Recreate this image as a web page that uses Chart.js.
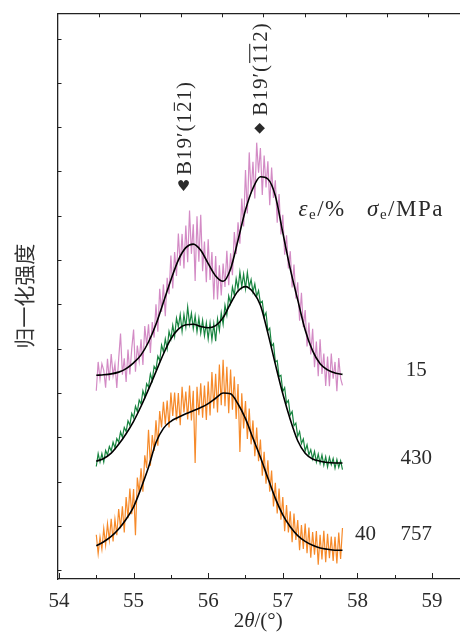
<!DOCTYPE html>
<html>
<head>
<meta charset="utf-8">
<script src="https://cdn.jsdelivr.net/npm/chart.js"></script>
<style>
  html, body { margin: 0; padding: 0; background: #fff; overflow: hidden; }
  #wrap { width: 480px; height: 633px; }
</style>
</head>
<body>
<div id="wrap"><canvas id="xrd" width="480" height="633"></canvas></div>
<script>
// 2theta sampling of the measured scans and of the fitted curves
const SCAN_START = 54.5, SCAN_STEP = 0.025;
const FIT_START = 54.5, FIT_STEP = 0.1;

// measured scans (normalised intensity, shifted)
const pinkScan = [
  4.05, 4.70, 4.31, 4.66, 4.51, 4.12, 4.77, 4.28, 4.88, 4.39, 4.65, 4.11,
  4.77, 5.34, 4.41, 4.78, 4.25, 4.98, 4.42, 5.00, 5.43, 4.48, 5.07, 4.72,
  5.21, 4.63, 5.51, 5.08, 5.55, 4.90, 5.60, 5.25, 6.00, 5.38, 6.35, 5.83,
  6.45, 5.73, 6.60, 6.23, 7.10, 6.36, 7.18, 6.64, 7.60, 6.87, 7.59, 6.81,
  7.78, 6.95, 8.12, 7.14, 7.81, 6.53, 7.99, 6.96, 8.02, 6.75, 7.42, 6.50,
  7.47, 6.55, 7.18, 6.11, 7.09, 6.11, 6.88, 6.20, 6.92, 6.39, 7.21, 6.43,
  7.15, 6.66, 7.63, 7.14, 7.85, 7.37, 8.39, 7.76, 9.03, 8.05, 9.43, 8.50,
  9.22, 8.39, 9.65, 8.97, 9.53, 8.47, 9.36, 8.64, 9.23, 8.24, 9.09, 8.40,
  8.80, 7.84, 8.49, 7.58, 8.02, 7.12, 7.56, 6.81, 7.20, 6.38, 6.90, 6.13,
  6.50, 5.63, 6.26, 5.49, 5.87, 5.05, 5.59, 4.87, 5.45, 4.58, 5.16, 4.38,
  5.21, 4.43, 4.89, 4.16, 4.82, 4.15, 4.89, 4.32, 4.70, 4.04, 4.79, 4.33,
  4.17
];
const greenScan = [
  2.34, 2.63, 2.44, 2.63, 2.44, 2.70, 2.60, 2.79, 2.69, 2.89, 2.76, 2.97,
  2.89, 3.12, 3.00, 3.22, 3.13, 3.37, 3.27, 3.54, 3.44, 3.70, 3.58, 3.84,
  3.75, 4.05, 3.91, 4.21, 4.13, 4.43, 4.28, 4.60, 4.53, 4.83, 4.73, 5.08,
  4.93, 5.22, 5.00, 5.39, 5.22, 5.53, 5.28, 5.69, 5.49, 5.77, 5.39, 5.77,
  5.49, 5.94, 5.55, 5.80, 5.45, 5.74, 5.38, 5.69, 5.35, 5.64, 5.29, 5.58,
  5.22, 5.58, 5.20, 5.56, 5.17, 5.67, 5.41, 5.81, 5.55, 5.98, 5.76, 6.19,
  6.02, 6.39, 6.21, 6.58, 6.35, 6.73, 6.40, 6.68, 6.35, 6.72, 6.39, 6.56,
  6.28, 6.46, 6.18, 6.31, 6.03, 6.07, 5.72, 5.81, 5.40, 5.46, 5.05, 5.11,
  4.70, 4.73, 4.37, 4.40, 4.03, 4.12, 3.77, 3.83, 3.50, 3.58, 3.26, 3.32,
  3.02, 3.13, 2.86, 2.96, 2.69, 2.83, 2.60, 2.72, 2.51, 2.68, 2.44, 2.62,
  2.41, 2.60, 2.37, 2.56, 2.33, 2.55, 2.38, 2.52, 2.30, 2.50, 2.32, 2.47,
  2.27
];
const orangeScan = [
  0.80, 0.37, 0.75, 0.47, 0.94, 0.57, 1.05, 0.68, 1.16, 0.65, 1.15, 0.79,
  1.38, 0.94, 1.44, 0.85, 1.65, 1.17, 1.84, 1.26, 1.83, 0.79, 2.09, 1.75,
  2.30, 1.77, 2.59, 2.30, 3.17, 2.36, 3.05, 2.69, 3.38, 2.81, 3.59, 3.22,
  3.80, 3.29, 3.83, 3.22, 4.01, 3.48, 4.01, 3.38, 4.00, 3.27, 4.14, 3.56,
  4.03, 3.40, 4.17, 3.38, 4.05, 2.42, 4.14, 3.50, 4.22, 3.44, 4.17, 3.39,
  4.26, 3.49, 4.47, 3.65, 4.43, 3.56, 4.64, 3.72, 4.75, 3.70, 4.59, 3.54,
  4.53, 3.62, 4.37, 3.41, 4.20, 2.67, 3.99, 3.20, 3.82, 2.96, 3.65, 2.84,
  3.38, 2.57, 3.22, 2.46, 2.95, 2.13, 2.67, 1.95, 2.48, 1.77, 2.25, 1.44,
  1.97, 1.28, 1.84, 1.14, 1.65, 0.88, 1.47, 0.85, 1.33, 0.63, 1.28, 0.68,
  1.13, 0.45, 1.02, 0.48, 1.05, 0.38, 0.96, 0.28, 0.86, 0.35, 0.88, 0.12,
  0.80, 0.24, 0.89, 0.18, 0.82, 0.27, 0.76, 0.21, 0.75, 0.15, 0.85, 0.25,
  0.95
];

// fitted profiles
const pinkFit = [4.40, 4.41, 4.43, 4.47, 4.55, 4.68, 4.86, 5.15, 5.55, 6.05, 6.55, 7.00,
  7.28, 7.36, 7.22, 6.92, 6.64, 6.52, 6.80, 7.45, 8.13, 8.62, 8.88, 8.83, 8.45, 7.62,
  6.80, 6.10, 5.42, 4.95, 4.66, 4.52, 4.45, 4.42];
const greenFit = [2.46, 2.52, 2.64, 2.84, 3.08, 3.36, 3.70, 4.08, 4.48, 4.88, 5.22, 5.44,
  5.54, 5.55, 5.50, 5.47, 5.52, 5.70, 6.02, 6.30, 6.40, 6.28, 5.98, 5.35, 4.65, 3.98,
  3.40, 2.92, 2.64, 2.51, 2.46, 2.43, 2.42, 2.42];
const orangeFit = [0.55, 0.64, 0.76, 0.93, 1.15, 1.43, 1.85, 2.32, 2.88, 3.20, 3.36, 3.45,
  3.53, 3.60, 3.67, 3.76, 3.88, 4.00, 3.98, 3.75, 3.42, 2.98, 2.55, 2.08, 1.62, 1.25,
  0.98, 0.78, 0.65, 0.56, 0.50, 0.47, 0.45, 0.45];

// axis ticks
const xTicks = [54, 54.5, 55, 55.5, 56, 56.5, 57, 57.5, 58, 58.5, 59];
const yTicks = [0, 1, 2, 3, 4, 5, 6, 7, 8, 9, 10, 11, 12];
const topTicks = [1, 2, 3, 4, 5, 6, 7, 8, 9];

// sample labels: strain (%) and stress (MPa) for each scan, top to bottom
const strainLabels = ['', '', '40'];
const stressLabels = ['15', '430', '757'];
const labelLevels = [4.51, 2.51, 0.80];

const PINK = '#d38bc5', GREEN = '#17843f', ORANGE = '#f68a2a';
const AXIS = '#222';
const SERIF = "'Liberation Serif', 'DejaVu Serif', serif";
const TEXT = '#2a2a2a';

const toPoints = (ys, start, step) => ys.map((y, i) => ({ x: +(start + i * step).toFixed(3), y }));

function scanSet(data, color) {
  return { data: toPoints(data, SCAN_START, SCAN_STEP), borderColor: color, borderWidth: 1.2,
    pointRadius: 0, tension: 0, order: 2 };
}
function fitSet(data) {
  return { data: toPoints(data, FIT_START, FIT_STEP), borderColor: '#000', borderWidth: 1.6,
    pointRadius: 0, cubicInterpolationMode: 'monotone', order: 1 };
}

// draw the tick marks on the inside of the frame
const inwardTicks = {
  id: 'inwardTicks',
  afterDraw(chart) {
    const { ctx, chartArea: a } = chart;
    const { x, y, xTop } = chart.scales;
    ctx.save();
    ctx.strokeStyle = AXIS;
    ctx.lineWidth = 1;
    ctx.beginPath();
    xTicks.forEach(v => {
      const p = Math.round(x.getPixelForValue(v)) + 0.5;
      ctx.moveTo(p, a.bottom);
      ctx.lineTo(p, a.bottom - (Number.isInteger(v) ? 6 : 4));
    });
    yTicks.forEach(v => {
      const p = Math.round(y.getPixelForValue(v)) + 0.5;
      ctx.moveTo(a.left, p);
      ctx.lineTo(a.left + 4, p);
    });
    topTicks.forEach(v => {
      const p = Math.round(xTop.getPixelForValue(v)) + 0.5;
      ctx.moveTo(p, a.top);
      ctx.lineTo(p, a.top + 4);
    });
    ctx.stroke();
    ctx.restore();
  }
};

// write a run of [text, font, dy] pieces starting at x
function drawRun(ctx, x, y, parts, align) {
  let w = 0;
  parts.forEach(p => { ctx.font = p[1]; w += ctx.measureText(p[0]).width; });
  let cx = align === 'center' ? x - w / 2 : x;
  parts.forEach(p => {
    ctx.font = p[1];
    ctx.fillText(p[0], cx, y + (p[2] || 0));
    cx += ctx.measureText(p[0]).width;
  });
}

// rotated peak label with an overline on some characters
function peakLabel(ctx, px, py, pieces) {
  ctx.save();
  ctx.translate(px, py);
  ctx.rotate(-Math.PI / 2);
  ctx.font = '21px ' + SERIF;
  ctx.letterSpacing = '1px';
  ctx.textAlign = 'left';
  ctx.textBaseline = 'alphabetic';
  let cx = 0;
  pieces.forEach(p => {
    const w = ctx.measureText(p[0]).width;
    ctx.fillText(p[0], cx, 7);
    if (p[1]) {
      ctx.fillRect(cx + 1, -10.5, w - 3, 1.1);
    }
    cx += w;
  });
  ctx.restore();
}

const annotations = {
  id: 'annotations',
  afterDraw(chart) {
    const { ctx, chartArea: a } = chart;
    const { x, y } = chart.scales;
    ctx.save();
    ctx.fillStyle = TEXT;
    ctx.textBaseline = 'middle';

    // y title
    ctx.save();
    ctx.translate(24, (a.top + a.bottom) / 2);
    ctx.rotate(-Math.PI / 2);
    ctx.textAlign = 'center';
    ctx.fillStyle = '#333';
    ctx.font = "21px 'Noto Sans CJK SC'";
    ctx.fillText('归一化强度', 0, 0);
    ctx.restore();

    // x title
    ctx.textAlign = 'left';
    drawRun(ctx, x.getPixelForValue(56.67), 621, [
      ['2', '21px ' + SERIF], ['θ', 'italic 21px ' + SERIF], ['/(°)', '21px ' + SERIF]
    ], 'center');

    // peak markers
    ctx.textAlign = 'center';
    ctx.font = "15px 'DejaVu Sans'";
    ctx.fillText('♥', x.getPixelForValue(55.67), y.getPixelForValue(8.65));
    ctx.font = "14px 'DejaVu Sans'";
    ctx.fillText('◆', x.getPixelForValue(56.69), y.getPixelForValue(9.98));
    peakLabel(ctx, x.getPixelForValue(55.68), y.getPixelForValue(8.92),
      [['B19′(1', false], ['2', true], ['1)', false]]);
    peakLabel(ctx, x.getPixelForValue(56.69), y.getPixelForValue(10.26),
      [['B19′(', false], ['11', true], ['2)', false]]);

    // column headers
    ctx.textAlign = 'left';
    ctx.save();
    ctx.letterSpacing = '1.5px';
    drawRun(ctx, x.getPixelForValue(57.21), y.getPixelForValue(8.13), [
      ['ε', 'italic 23px ' + SERIF], ['e', '15px ' + SERIF, 5], ['/%', '23px ' + SERIF]
    ]);
    drawRun(ctx, x.getPixelForValue(58.13), y.getPixelForValue(8.13), [
      ['σ', 'italic 23px ' + SERIF], ['e', '15px ' + SERIF, 5], ['/MPa', '23px ' + SERIF]
    ]);
    ctx.restore();

    // per-scan values
    ctx.textAlign = 'center';
    ctx.font = '21px ' + SERIF;
    labelLevels.forEach((lv, i) => {
      const py = y.getPixelForValue(lv);
      if (strainLabels[i]) ctx.fillText(strainLabels[i], x.getPixelForValue(58.11), py);
      ctx.fillText(stressLabels[i], x.getPixelForValue(58.79), py);
    });
    ctx.restore();
  }
};

new Chart(document.getElementById('xrd'), {
  type: 'line',
  data: {
    datasets: [
      scanSet(pinkScan, PINK), scanSet(greenScan, GREEN), scanSet(orangeScan, ORANGE),
      fitSet(pinkFit), fitSet(greenFit), fitSet(orangeFit)
    ]
  },
  options: {
    responsive: false,
    animation: false,
    events: [],
    layout: { padding: { top: 0, right: 10.7, left: 0, bottom: 0 } },
    plugins: { legend: { display: false }, tooltip: { enabled: false } },
    scales: {
      x: {
        type: 'linear', position: 'bottom', min: 53.98, max: 59.5,
        afterBuildTicks: s => { s.ticks = xTicks.map(v => ({ value: v })); },
        afterFit: s => { s.height = 54; },
        grid: { display: false },
        border: { display: true, color: AXIS, width: 1.3 },
        ticks: {
          autoSkip: false, maxRotation: 0, padding: 2, color: TEXT,
          font: { family: SERIF, size: 21 },
          callback: v => Number.isInteger(v) ? String(v) : ''
        }
      },
      xTop: {
        type: 'linear', position: 'top', min: 0, max: 10,
        afterBuildTicks: s => { s.ticks = topTicks.map(v => ({ value: v })); },
        afterFit: s => { s.height = 13.3; },
        grid: { display: false },
        border: { display: true, color: AXIS, width: 1.3 },
        ticks: { display: false }
      },
      y: {
        type: 'linear', min: -0.2, max: 12.57,
        afterBuildTicks: s => { s.ticks = yTicks.map(v => ({ value: v })); },
        afterFit: s => { s.width = 57.5; },
        grid: { display: false },
        border: { display: true, color: AXIS, width: 1.3 },
        ticks: { display: false }
      }
    }
  },
  plugins: [inwardTicks, annotations]
});
</script>
</body>
</html>
